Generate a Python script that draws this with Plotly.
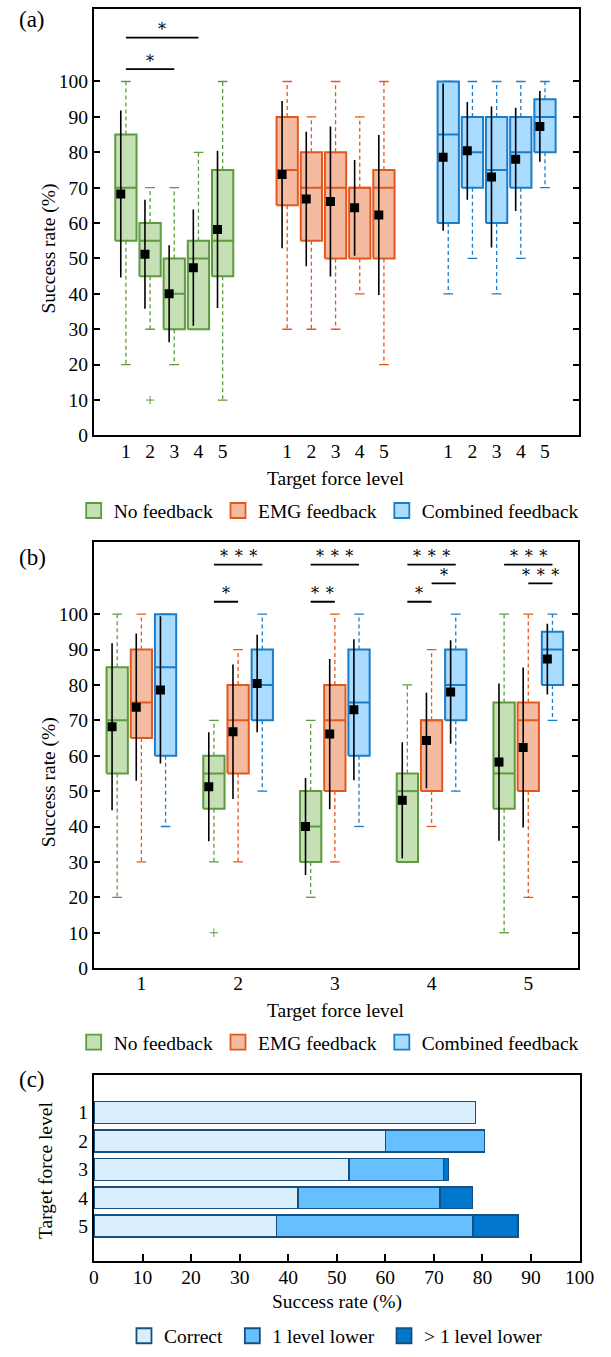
import plotly.graph_objects as go

# ---------------- data ----------------
levels = [1, 2, 3, 4, 5]
groups = ["No feedback", "EMG feedback", "Combined feedback"]

# box statistics: rows = group, columns = target force level
q1 = [[55, 45, 30, 30, 45],
      [65, 55, 50, 50, 50],
      [60, 70, 60, 70, 80]]
median = [[70, 55, 40, 50, 55],
          [75, 70, 70, 70, 70],
          [85, 80, 75, 80, 90]]
q3 = [[85, 60, 50, 55, 75],
      [90, 80, 80, 70, 75],
      [100, 90, 90, 90, 95]]
lower = [[20, 30, 20, 30, 10],
         [30, 30, 30, 40, 20],
         [40, 50, 40, 50, 70]]
upper = [[100, 70, 70, 80, 100],
         [100, 90, 100, 90, 100],
         [100, 100, 100, 100, 100]]
mean = [[68.2, 51.2, 40.0, 47.4, 58.2],
        [73.7, 66.8, 66.1, 64.3, 62.3],
        [78.6, 80.4, 73.0, 78.0, 87.3]]
sd = [[23.6, 15.4, 13.7, 16.4, 22.2],
      [20.8, 19.0, 21.2, 13.5, 22.6],
      [20.8, 13.8, 19.9, 14.6, 10.0]]
outlier_group = [0]
outlier_level = [2]
outlier_value = [10]

# significance (a): within "No feedback" between levels
sig_a_from = [1, 1]
sig_a_to = [3, 4]
sig_a_y = [103.5, 112.4]
sig_a_text = ["*", "*"]

# significance (b): between feedback groups within a level
sig_b_level = [2, 2, 3, 3, 4, 4, 4, 5, 5]
sig_b_g1 = [0, 0, 0, 0, 0, 1, 0, 0, 1]
sig_b_g2 = [2, 1, 2, 1, 2, 2, 1, 2, 2]
sig_b_y = [114, 103.5, 114, 103.5, 114, 108.7, 103.5, 114, 108.7]
sig_b_text = ["* * *", "*", "* * *", "* *", "* * *", "*", "*", "* * *", "* * *"]

# (c) combined feedback: decomposition of success rate
c_levels = [1, 2, 3, 4, 5]
correct = [78.6, 60.0, 52.5, 42.0, 37.6]
one_lower = [0, 20.4, 19.5, 29.3, 40.5]
more_lower = [0, 0, 1.0, 6.7, 9.2]
c_names = ["Correct", "1 level lower", "> 1 level lower"]

# ---------------- style ----------------
FILL = ["#C5E0B4", "#F5BBA1", "#AADCFF"]
EDGE = ["#5E9A3E", "#E2581F", "#1A7DC9"]
C_FILL = ["#D9EFFD", "#66C0FF", "#0077CC"]
C_EDGE = "#17507F"
FONT = "Liberation Serif"
STAR_FONT = "DejaVu Serif"
W, H = 611, 1357
STAR_SIZE = 16


def py(p):
    return 1 - p / H


def px(p):
    return p / W


def star_label(s):
    return s.replace(" ", "\u00a0\u200a")


A_OFF = [0, 6.67, 13.33]
B_OFF = [-0.25, 0, 0.25]


def xa(g, lvl):
    return A_OFF[g] + lvl


def xb(g, lvl):
    return lvl + B_OFF[g]


fig = go.Figure()


def add_boxes(xfun, unit_px, xref, yref):
    hw = 11 / unit_px
    cap = 5 / unit_px
    moff = -5.3 / unit_px
    for g in range(3):
        bx, by, mx, my, wx, wy, cx, cy, sx, sy, ex, ey = ([] for _ in range(12))
        for j, lvl in enumerate(levels):
            c = xfun(g, lvl)
            bx += [c - hw, c + hw, c + hw, c - hw, c - hw, None]
            by += [q1[g][j], q1[g][j], q3[g][j], q3[g][j], q1[g][j], None]
            mx += [c - hw, c + hw, None]
            my += [median[g][j], median[g][j], None]
            wx += [c, c, None, c, c, None]
            wy += [q3[g][j], upper[g][j], None, q1[g][j], lower[g][j], None]
            cx += [c - cap, c + cap, None, c - cap, c + cap, None]
            cy += [upper[g][j], upper[g][j], None, lower[g][j], lower[g][j], None]
            sx += [c + moff, c + moff, None]
            sy += [mean[g][j] - sd[g][j], mean[g][j] + sd[g][j], None]
            ex.append(c + moff)
            ey.append(mean[g][j])
        common = dict(xaxis=xref, yaxis=yref, showlegend=False, hoverinfo="skip")
        fig.add_trace(go.Scatter(x=wx, y=wy, mode="lines",
                                 line=dict(color=EDGE[g], width=1.3, dash="4px,3px"), **common))
        fig.add_trace(go.Scatter(x=cx, y=cy, mode="lines",
                                 line=dict(color=EDGE[g], width=1.3), **common))
        fig.add_trace(go.Scatter(x=bx, y=by, mode="lines", fill="toself", fillcolor=FILL[g],
                                 line=dict(color=EDGE[g], width=2), **common))
        fig.add_trace(go.Scatter(x=mx, y=my, mode="lines",
                                 line=dict(color=EDGE[g], width=2), **common))
        ox = [xfun(og, ol) for og, ol in zip(outlier_group, outlier_level) if og == g]
        oy = [v for og, v in zip(outlier_group, outlier_value) if og == g]
        if ox:
            fig.add_trace(go.Scatter(x=ox, y=oy, mode="markers",
                                     marker=dict(symbol="cross-thin", size=6,
                                                 line=dict(color=EDGE[g], width=1)), **common))
        fig.add_trace(go.Scatter(x=sx, y=sy, mode="lines",
                                 line=dict(color="black", width=1.6), **common))
        fig.add_trace(go.Scatter(x=ex, y=ey, mode="markers",
                                 marker=dict(symbol="square", size=9, color="black"), **common))


add_boxes(xa, 25, "x", "y")
add_boxes(xb, 100, "x2", "y2")

annotations = []
star_font = dict(size=STAR_SIZE, family=STAR_FONT, color="black")

# significance brackets (a)
sx, sy = [], []
for f, t, yv, txt in zip(sig_a_from, sig_a_to, sig_a_y, sig_a_text):
    x1, x2 = xa(0, f), xa(0, t)
    sx += [x1, x2, None]
    sy += [yv, yv, None]
    annotations.append(dict(x=(x1 + x2) / 2, y=yv, xref="x", yref="y", text=star_label(txt),
                            showarrow=False, yanchor="middle", yshift=8, font=star_font))
fig.add_trace(go.Scatter(x=sx, y=sy, mode="lines", line=dict(color="black", width=1.8),
                         xaxis="x", yaxis="y", showlegend=False, hoverinfo="skip"))

# significance brackets (b)
sx, sy = [], []
for lvl, g1, g2, yv, txt in zip(sig_b_level, sig_b_g1, sig_b_g2, sig_b_y, sig_b_text):
    x1, x2 = xb(g1, lvl), xb(g2, lvl)
    sx += [x1, x2, None]
    sy += [yv, yv, None]
    annotations.append(dict(x=(x1 + x2) / 2, y=yv, xref="x2", yref="y2", text=star_label(txt),
                            showarrow=False, yanchor="middle", yshift=8, font=star_font))
fig.add_trace(go.Scatter(x=sx, y=sy, mode="lines", line=dict(color="black", width=1.8),
                         xaxis="x2", yaxis="y2", showlegend=False, hoverinfo="skip"))

# (c) stacked horizontal bars
for vals, name, col in zip([correct, one_lower, more_lower], c_names, C_FILL):
    fig.add_trace(go.Bar(x=vals, y=c_levels, orientation="h", width=0.77,
                         marker=dict(color=col, line=dict(color=C_EDGE, width=1.5)),
                         xaxis="x3", yaxis="y3", showlegend=False, hoverinfo="skip"))

# legend entries
for g in range(3):
    for lg, xr, yr in [("legend", "x", "y"), ("legend2", "x2", "y2")]:
        fig.add_trace(go.Scatter(x=[None], y=[None], mode="markers", name=groups[g],
                                 marker=dict(symbol="square", size=15, color=FILL[g],
                                             line=dict(color=EDGE[g], width=1.8)),
                                 xaxis=xr, yaxis=yr, legend=lg))
for k, (name, col) in enumerate(zip(c_names, C_FILL)):
    label = name + ("\u00a0" if k < len(c_names) - 1 else "")
    fig.add_trace(go.Scatter(x=[None], y=[None], mode="markers", name=label,
                             marker=dict(symbol="square", size=15, color=col,
                                         line=dict(color=C_EDGE, width=1.8)),
                             xaxis="x3", yaxis="y3", legend="legend3"))

# text annotations: panel labels and axis titles
tf = dict(family=FONT, size=19.5, color="black")
for lab, yp in [("(a)", 20), ("(b)", 562), ("(c)", 1088)]:
    annotations.append(dict(x=px(28), y=py(yp), xref="paper", yref="paper", text=lab,
                            showarrow=False, xanchor="center", yanchor="middle",
                            font=dict(family=FONT, size=23, color="black")))
for txt, xp, yp, ang in [("Success rate (%)", 45, 251, -90),
                         ("Target force level", 342, 482, 0),
                         ("Success rate (%)", 45, 789, -90),
                         ("Target force level", 342, 1019, 0),
                         ("Target force level", 42, 1180, -90),
                         ("Success rate (%)", 343, 1313, 0)]:
    annotations.append(dict(x=px(xp), y=py(yp), xref="paper", yref="paper", text=txt,
                            showarrow=False, xanchor="center", yanchor="middle",
                            textangle=ang, font=tf))

line_ax = dict(showline=True, linecolor="black", linewidth=2, showgrid=False,
               zeroline=False, tickfont=tf)

a_tickvals = [xa(g, l) for g in range(3) for l in levels]
a_ticktext = [str(l) for g in range(3) for l in levels]

leg = dict(orientation="h", xanchor="left", yanchor="middle", traceorder="normal",
           bgcolor="rgba(0,0,0,0)", font=tf, itemclick=False, itemdoubleclick=False)

fig.update_layout(
    width=W, height=H, margin=dict(l=0, r=0, t=0, b=0),
    paper_bgcolor="white", plot_bgcolor="white",
    font=tf, barmode="stack", annotations=annotations,
    xaxis=dict(domain=[px(92), px(593)], anchor="y", range=[-0.32, 19.72],
               tickvals=a_tickvals, ticktext=a_ticktext, ticks="", mirror=True,
               ticklabelstandoff=-3, **line_ax),
    yaxis=dict(domain=[py(439), py(9)], anchor="x", range=[0, 120.5],
               tickvals=list(range(0, 101, 10)), ticks="inside", ticklen=6,
               tickwidth=1.5, tickcolor="black", mirror="ticks", **line_ax),
    xaxis2=dict(domain=[px(92), px(592)], anchor="y2", range=[0.51, 5.51],
                tickvals=levels, ticks="", mirror=True, ticklabelstandoff=-3, **line_ax),
    yaxis2=dict(domain=[py(976), py(546)], anchor="x2", range=[0, 120.5],
                tickvals=list(range(0, 101, 10)), ticks="inside", ticklen=6,
                tickwidth=1.5, tickcolor="black", mirror="ticks", **line_ax),
    xaxis3=dict(domain=[px(92), px(594)], anchor="y3", range=[0, 100],
                tickvals=list(range(0, 101, 10)), ticks="inside", ticklen=7,
                tickwidth=1.5, tickcolor="black", mirror=True, ticklabelstandoff=-2,
                **line_ax),
    yaxis3=dict(domain=[py(1271), py(1084)], anchor="x3", range=[6.22, -0.32],
                tickvals=c_levels, ticks="", mirror=True, **line_ax),
    legend=dict(x=px(71), y=py(515), **leg),
    legend2=dict(x=px(71), y=py(1051), **leg),
    legend3=dict(x=px(123), y=py(1347), **leg),
)

fig.write_html("out.html")
